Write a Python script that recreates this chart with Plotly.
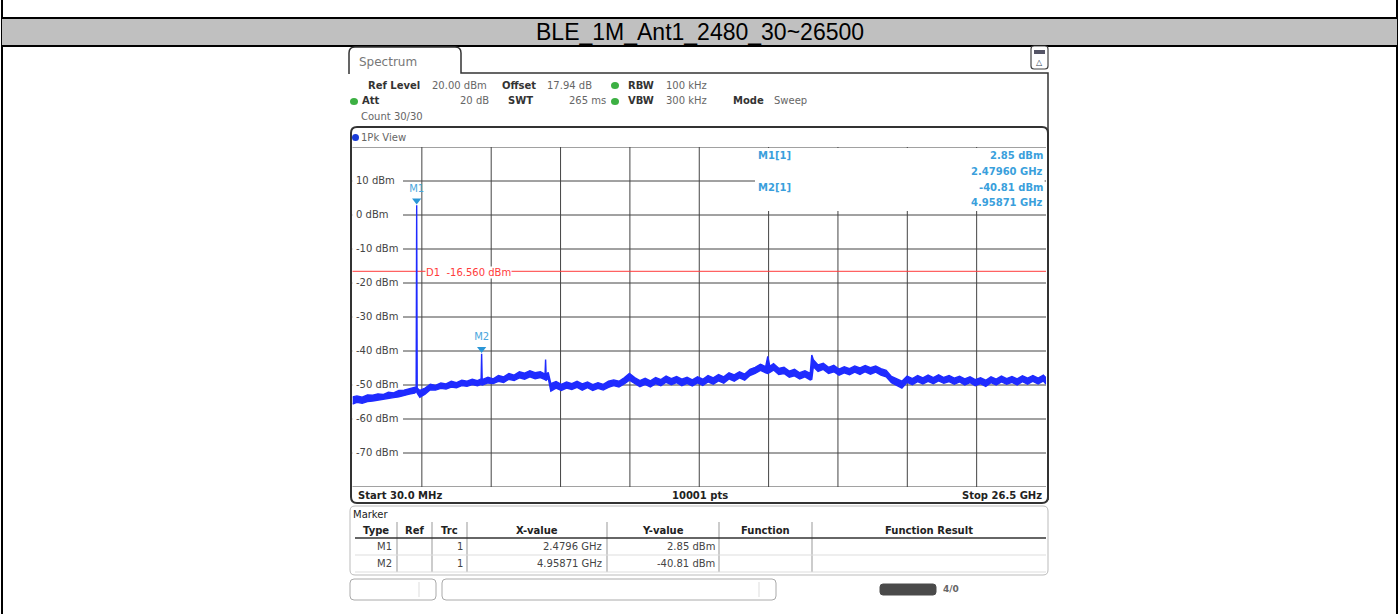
import plotly.graph_objects as go

W, H = 1400, 614

TITLE = "BLE_1M_Ant1_2480_30~26500"

# sweep trace: frequency (GHz) with upper / lower edge of the trace (dBm)
FREQ_GHZ = [
    0.03, 0.2, 0.4, 0.6, 0.8, 1.0, 1.2, 1.4, 1.6, 1.8,
    2.0, 2.2, 2.4, 2.46, 2.4796, 2.5, 2.6, 2.8, 3.0, 3.2,
    3.4, 3.6, 3.8, 4.0, 4.2, 4.4, 4.6, 4.8, 4.94, 4.95871,
    4.98, 5.2, 5.4, 5.6, 5.8, 6.0, 6.2, 6.4, 6.6, 6.8,
    7.0, 7.2, 7.38, 7.4, 7.42, 7.5, 7.6, 7.8, 8.0, 8.2,
    8.4, 8.6, 8.8, 9.0, 9.2, 9.4, 9.6, 9.8, 10.0, 10.2,
    10.4, 10.6, 10.8, 11.0, 11.2, 11.4, 11.6, 11.8, 12.0, 12.2,
    12.4, 12.6, 12.8, 13.0, 13.2, 13.4, 13.6, 13.8, 14.0, 14.2,
    14.4, 14.6, 14.8, 15.0, 15.2, 15.4, 15.6, 15.8, 15.88, 15.96,
    16.1, 16.3, 16.5, 16.7, 16.9, 17.1, 17.3, 17.5, 17.56, 17.62,
    17.8, 18.0, 18.2, 18.4, 18.6, 18.8, 19.0, 19.2, 19.4, 19.6,
    19.8, 20.0, 20.2, 20.4, 20.6, 20.8, 21.0, 21.2, 21.4, 21.6,
    21.8, 22.0, 22.2, 22.4, 22.6, 22.8, 23.0, 23.2, 23.4, 23.6,
    23.8, 24.0, 24.2, 24.4, 24.6, 24.8, 25.0, 25.2, 25.4, 25.6,
    25.8, 26.0, 26.2, 26.4, 26.5,
]
LEVEL_HI = [
    -53.5, -53.2, -53.6, -52.9, -53.0, -52.6, -52.8, -52.1, -52.3, -51.6,
    -51.5, -51.1, -50.8, -50.6, 2.85, -50.9, -51.6, -50.9, -49.8, -50.1,
    -49.4, -49.7, -48.9, -49.3, -48.6, -48.9, -48.3, -48.7, -48.2, -40.81,
    -48.4, -47.7, -48.2, -47.2, -47.6, -46.6, -47.1, -46.1, -46.5, -45.8,
    -46.4, -46.1, -46.8, -42.5, -47.0, -46.3, -49.6, -49.0, -49.8, -49.1,
    -49.6, -48.9, -49.7, -49.1, -49.9, -49.3, -49.8, -48.9, -48.5, -48.9,
    -47.9, -46.6, -47.8, -48.7, -48.0, -48.8, -47.8, -48.4, -47.4, -48.1,
    -47.5, -48.3, -47.7, -48.5, -47.6, -48.3, -47.2, -47.9, -46.9, -47.6,
    -46.4, -47.0, -46.1, -46.8, -45.4, -44.8, -43.9, -44.6, -41.6, -44.5,
    -43.7, -45.1, -44.8, -45.9, -45.4, -46.4, -45.8, -46.6, -41.2, -42.6,
    -44.1, -43.6, -44.8, -44.2, -45.3, -44.6, -45.2, -44.4, -45.0, -44.3,
    -44.9, -44.4, -45.2, -45.7, -47.5, -48.3, -48.9, -47.4, -48.1, -47.2,
    -47.9, -47.1, -47.8, -47.0, -47.8, -47.2, -48.0, -47.4, -48.2, -47.6,
    -48.4, -47.9, -48.6, -47.6, -48.3, -47.4, -48.1, -47.5, -48.2, -47.3,
    -48.0, -47.2, -48.0, -47.1, -47.9,
]
LEVEL_LO = [
    -55.6, -55.1, -55.4, -54.9, -54.7, -54.5, -54.1, -54.0, -53.7, -53.5,
    -53.2, -52.7, -52.4, -52.0, -51.6, -52.4, -53.6, -52.7, -51.4, -51.5,
    -51.0, -51.2, -50.6, -50.8, -50.2, -50.4, -49.9, -50.2, -49.8, -49.6,
    -50.0, -49.4, -49.6, -48.9, -49.3, -48.3, -48.7, -47.9, -48.3, -47.6,
    -48.2, -47.8, -48.4, -48.4, -48.6, -48.0, -51.8, -50.9, -51.6, -50.9,
    -51.3, -50.7, -51.5, -50.8, -51.6, -51.0, -51.5, -50.7, -50.2, -50.6,
    -49.7, -48.6, -49.6, -50.5, -49.8, -50.6, -49.6, -50.2, -49.2, -49.9,
    -49.3, -50.2, -49.5, -50.3, -49.4, -50.1, -49.1, -49.8, -48.8, -49.5,
    -48.2, -48.9, -47.9, -48.6, -47.2, -46.6, -45.7, -46.4, -46.6, -46.3,
    -45.6, -46.9, -46.6, -47.7, -47.3, -48.2, -47.6, -48.5, -48.3, -44.6,
    -46.0, -45.4, -46.6, -46.1, -47.1, -46.4, -47.0, -46.2, -46.9, -46.1,
    -46.8, -46.2, -47.1, -47.6, -49.3, -50.2, -50.9, -49.2, -49.9, -49.0,
    -49.7, -48.9, -49.6, -48.8, -49.5, -49.0, -49.8, -49.1, -50.0, -49.3,
    -50.2, -49.6, -50.4, -49.3, -50.0, -49.1, -49.8, -49.2, -50.0, -49.0,
    -49.8, -48.9, -49.7, -48.8, -49.7,
]

START_GHZ, STOP_GHZ = 0.03, 26.5
REF_LEVEL, BOTTOM_LEVEL = 20, -80
Y_TICKS = [10, 0, -10, -20, -30, -40, -50, -60, -70]
D1_LEVEL = -16.56

MARKER_NAMES = ["M1", "M2"]
MARKER_FREQ_GHZ = [2.4796, 4.95871]
MARKER_LEVEL_DBM = [2.85, -40.81]
MARKER_X_TEXT = ["2.4796 GHz", "4.95871 GHz"]
MARKER_Y_TEXT = ["2.85 dBm", "-40.81 dBm"]
MARKER_INFO_FREQ = ["2.47960 GHz", "4.95871 GHz"]

TABLE_HEADERS = ["Type", "Ref", "Trc", "X-value", "Y-value", "Function", "Function Result"]

# pixel layout of the analyzer screenshot
PL, PR, PT, PB = 352.5, 1046, 147, 487


def px(x):
    return x / W


def py(y):
    return 1 - y / H


def fx(x):
    # pixel -> frequency on the diagram
    return START_GHZ + (x - PL) / (PR - PL) * (STOP_GHZ - START_GHZ)


fig = go.Figure()


def text(x, y, s, size=10, color="#333", anchor="left", bold=False, family="DejaVu Sans", bg=None):
    fig.add_annotation(
        x=px(x), y=py(y), xref="paper", yref="paper", text=f"<b>{s}</b>" if bold else s,
        showarrow=False, xanchor=anchor, yanchor="middle", borderpad=0,
        font=dict(size=size, color=color, family=family), bgcolor=bg,
    )


def rect(x0, y0, x1, y1, fill=None, line=None, width=1):
    fig.add_shape(
        type="rect", xref="paper", yref="paper", x0=px(x0), x1=px(x1), y0=py(y1), y1=py(y0),
        fillcolor=fill, line=dict(color=line, width=width if line else 0),
    )


def seg(x0, y0, x1, y1, color="#000", width=1):
    fig.add_shape(
        type="line", xref="paper", yref="paper", x0=px(x0), x1=px(x1), y0=py(y0), y1=py(y1),
        line=dict(color=color, width=width),
    )


def roundrect(x0, y0, x1, y1, r=5, fill=None, line="#333", width=1):
    p = (
        f"M {px(x0)},{py(y0 + r)} Q {px(x0)},{py(y0)} {px(x0 + r)},{py(y0)} "
        f"L {px(x1 - r)},{py(y0)} Q {px(x1)},{py(y0)} {px(x1)},{py(y0 + r)} "
        f"L {px(x1)},{py(y1 - r)} Q {px(x1)},{py(y1)} {px(x1 - r)},{py(y1)} "
        f"L {px(x0 + r)},{py(y1)} Q {px(x0)},{py(y1)} {px(x0)},{py(y1 - r)} Z"
    )
    fig.add_shape(type="path", path=p, xref="paper", yref="paper",
                  fillcolor=fill, line=dict(color=line, width=width))


# page frame + title band
seg(2, 0, 2, H, "#000", 2)
seg(1397, 0, 1397, H, "#000", 2)
rect(2, 18, 1397, 46, fill="#c0c0c0")
seg(2, 18, 1397, 18, "#000", 2)
seg(2, 46, 1397, 46, "#000", 2)
text(700, 32, TITLE, size=23, color="#000", anchor="center", family="Liberation Sans")

# tab + header
fig.add_shape(
    type="path", xref="paper", yref="paper", line=dict(color="#333", width=1.5),
    path=(f"M {px(349)},{py(74)} L {px(349)},{py(53)} Q {px(349)},{py(47)} {px(355)},{py(47)} "
          f"L {px(455)},{py(47)} Q {px(461)},{py(47)} {px(461)},{py(53)} L {px(461)},{py(73)} "
          f"L {px(1048)},{py(73)} L {px(1048)},{py(500)}"),
)
text(358, 62, "Spectrum", size=12, color="#777")
roundrect(1031, 46, 1048, 69, r=3, fill="#fff", line="#444", width=1.2)
rect(1034, 50, 1045, 54, fill="#556")
text(1039.5, 62, "△", size=8, color="#345", anchor="center")

GREEN = "#3cb043"
text(367, 85, "Ref Level", bold=True)
text(431, 85, "20.00 dBm", color="#666")
text(501, 85, "Offset", bold=True)
text(546, 85, "17.94 dB", color="#666")
fig.add_shape(type="circle", xref="paper", yref="paper", x0=px(611), x1=px(619), y0=py(89), y1=py(82),
              fillcolor=GREEN, line_width=0)
text(627, 85, "RBW", bold=True)
text(665, 85, "100 kHz", color="#666")

fig.add_shape(type="circle", xref="paper", yref="paper", x0=px(350), x1=px(358), y0=py(105), y1=py(98),
              fillcolor=GREEN, line_width=0)
text(361, 101, "Att", bold=True)
text(490, 101, "20 dB", color="#666", anchor="right")
text(507, 101, "SWT", bold=True)
text(607, 101, "265 ms", color="#666", anchor="right")
fig.add_shape(type="circle", xref="paper", yref="paper", x0=px(611), x1=px(619), y0=py(105), y1=py(98),
              fillcolor=GREEN, line_width=0)
text(627, 101, "VBW", bold=True)
text(665, 101, "300 kHz", color="#666")
text(732, 101, "Mode", bold=True)
text(773, 101, "Sweep", color="#666")
text(360, 117, "Count 30/30", color="#666")

# diagram frame
roundrect(351, 127, 1048, 503, r=6, line="#333", width=2)
fig.add_shape(type="circle", xref="paper", yref="paper", x0=px(352), x1=px(359), y0=py(141), y1=py(134),
              fillcolor="#1a3cd8", line_width=0)
text(360, 137, "1Pk View", color="#666")
text(357, 495, "Start 30.0 MHz", bold=True, color="#222")
text(700, 495, "10001 pts", bold=True, color="#222", anchor="center")
text(1043, 495, "Stop 26.5 GHz", bold=True, color="#222", anchor="right")

# grid drawn as below-layer shapes so white patches can sit between grid and trace
GRID = "#444"
for k in range(1, 10):
    f = START_GHZ + k * (STOP_GHZ - START_GHZ) / 10
    fig.add_shape(type="line", xref="x", yref="y domain", layer="below", x0=f, x1=f, y0=0, y1=1,
                  line=dict(color=GRID, width=1))
for t in [REF_LEVEL] + Y_TICKS + [BOTTOM_LEVEL]:
    fig.add_shape(type="line", xref="x domain", yref="y", layer="below", x0=0, x1=1, y0=t, y1=t,
                  line=dict(color=GRID, width=1))
for t in Y_TICKS:
    fig.add_shape(type="rect", xref="x domain", yref="y", layer="below",
                  x0=0, x1=(403 - PL) / (PR - PL), y0=t - 1.7, y1=t + 1.7,
                  fillcolor="white", line_width=0)
fig.add_shape(type="rect", xref="x domain", yref="y domain", layer="below",
              x0=(755 - PL) / (PR - PL), x1=0.998, y0=(PB - 211) / (PB - PT), y1=0.997,
              fillcolor="white", line_width=0)
fig.add_shape(type="line", xref="x domain", yref="y", layer="below",
              x0=0, x1=1, y0=D1_LEVEL, y1=D1_LEVEL, line=dict(color="#ff3b3b", width=1))

fig.add_trace(go.Scatter(
    x=[fx(356)] * len(Y_TICKS), y=Y_TICKS, mode="text",
    text=[f"{t} dBm" for t in Y_TICKS], textposition="middle right",
    textfont=dict(family="DejaVu Sans", size=10, color="#444"), hoverinfo="skip",
))

# trace band: upper edge forward, lower edge back
fig.add_trace(go.Scatter(
    x=FREQ_GHZ + FREQ_GHZ[::-1], y=LEVEL_HI + LEVEL_LO[::-1], mode="lines",
    fill="toself", fillcolor="#1f2bff",
    line=dict(color="#1f2bff", width=1.4), hoverinfo="skip",
))

fig.add_trace(go.Scatter(
    x=MARKER_FREQ_GHZ, y=[v + 1.4 for v in MARKER_LEVEL_DBM], mode="markers+text",
    marker=dict(symbol="triangle-down", size=8, color="#2a96d6"),
    text=MARKER_NAMES, textposition="top center",
    textfont=dict(family="DejaVu Sans", size=10, color="#4aa6dd"), hoverinfo="skip",
))

text(425, 272, f"D1  {D1_LEVEL:.3f} dBm", color="#ff3b3b", bg="white")

BLUE = "#3a9fdc"
text(757, 155, "M1[1]", bold=True, color=BLUE)
text(1044, 155, MARKER_Y_TEXT[0], bold=True, color=BLUE, anchor="right")
text(1044, 171, MARKER_INFO_FREQ[0], bold=True, color=BLUE, anchor="right")
text(757, 187, "M2[1]", bold=True, color=BLUE)
text(1044, 187, MARKER_Y_TEXT[1], bold=True, color=BLUE, anchor="right")
text(1044, 203, MARKER_INFO_FREQ[1], bold=True, color=BLUE, anchor="right")

# marker table
roundrect(350, 506, 1048, 575, r=5, line="#bbb", width=1)
text(352, 514, "Marker", color="#222")
col_edges = [355, 397, 432, 467, 607, 719, 812, 1046]
for x in col_edges[1:-1]:
    seg(x, 522, x, 572, "#999", 1)
seg(355, 538, 1046, 538, "#333", 1.5)
seg(355, 555, 1046, 555, "#ddd", 1)
seg(355, 572, 1046, 572, "#ddd", 1)
for i, h in enumerate(TABLE_HEADERS):
    text((col_edges[i] + col_edges[i + 1]) / 2, 530, h, bold=True, color="#222", anchor="center")
for i, name in enumerate(MARKER_NAMES):
    yy = 546 + i * 17
    text(393, yy, name, color="#444", anchor="right")
    text(464, yy, "1", color="#444", anchor="right")
    text(603, yy, MARKER_X_TEXT[i], color="#444", anchor="right")
    text(716, yy, MARKER_Y_TEXT[i], color="#444", anchor="right")

# status bar
roundrect(350, 579, 436, 600, r=4, line="#aaa", width=1)
roundrect(442, 579, 776, 600, r=4, line="#aaa", width=1)
seg(419, 582, 419, 597, "#ddd", 1)
seg(759, 582, 759, 597, "#ddd", 1)
roundrect(880, 584, 936, 595, r=3, fill="#4a4a4a", line="#4a4a4a", width=1)
text(942, 589, "4/0", size=9, color="#666", bold=True)

fig.update_layout(
    width=W, height=H, margin=dict(l=0, r=0, t=0, b=0),
    paper_bgcolor="white", plot_bgcolor="white", showlegend=False,
    xaxis=dict(domain=[px(PL), px(PR)], range=[START_GHZ, STOP_GHZ],
               showgrid=False, showticklabels=False, zeroline=False, showline=False, fixedrange=True),
    yaxis=dict(domain=[py(PB), py(PT)], range=[BOTTOM_LEVEL, REF_LEVEL],
               showgrid=False, showticklabels=False, zeroline=False, showline=False, fixedrange=True),
)

fig.write_html("out.html", config={"displayModeBar": False},
               post_script="document.body.style.margin='0';document.body.style.overflow='hidden';")
